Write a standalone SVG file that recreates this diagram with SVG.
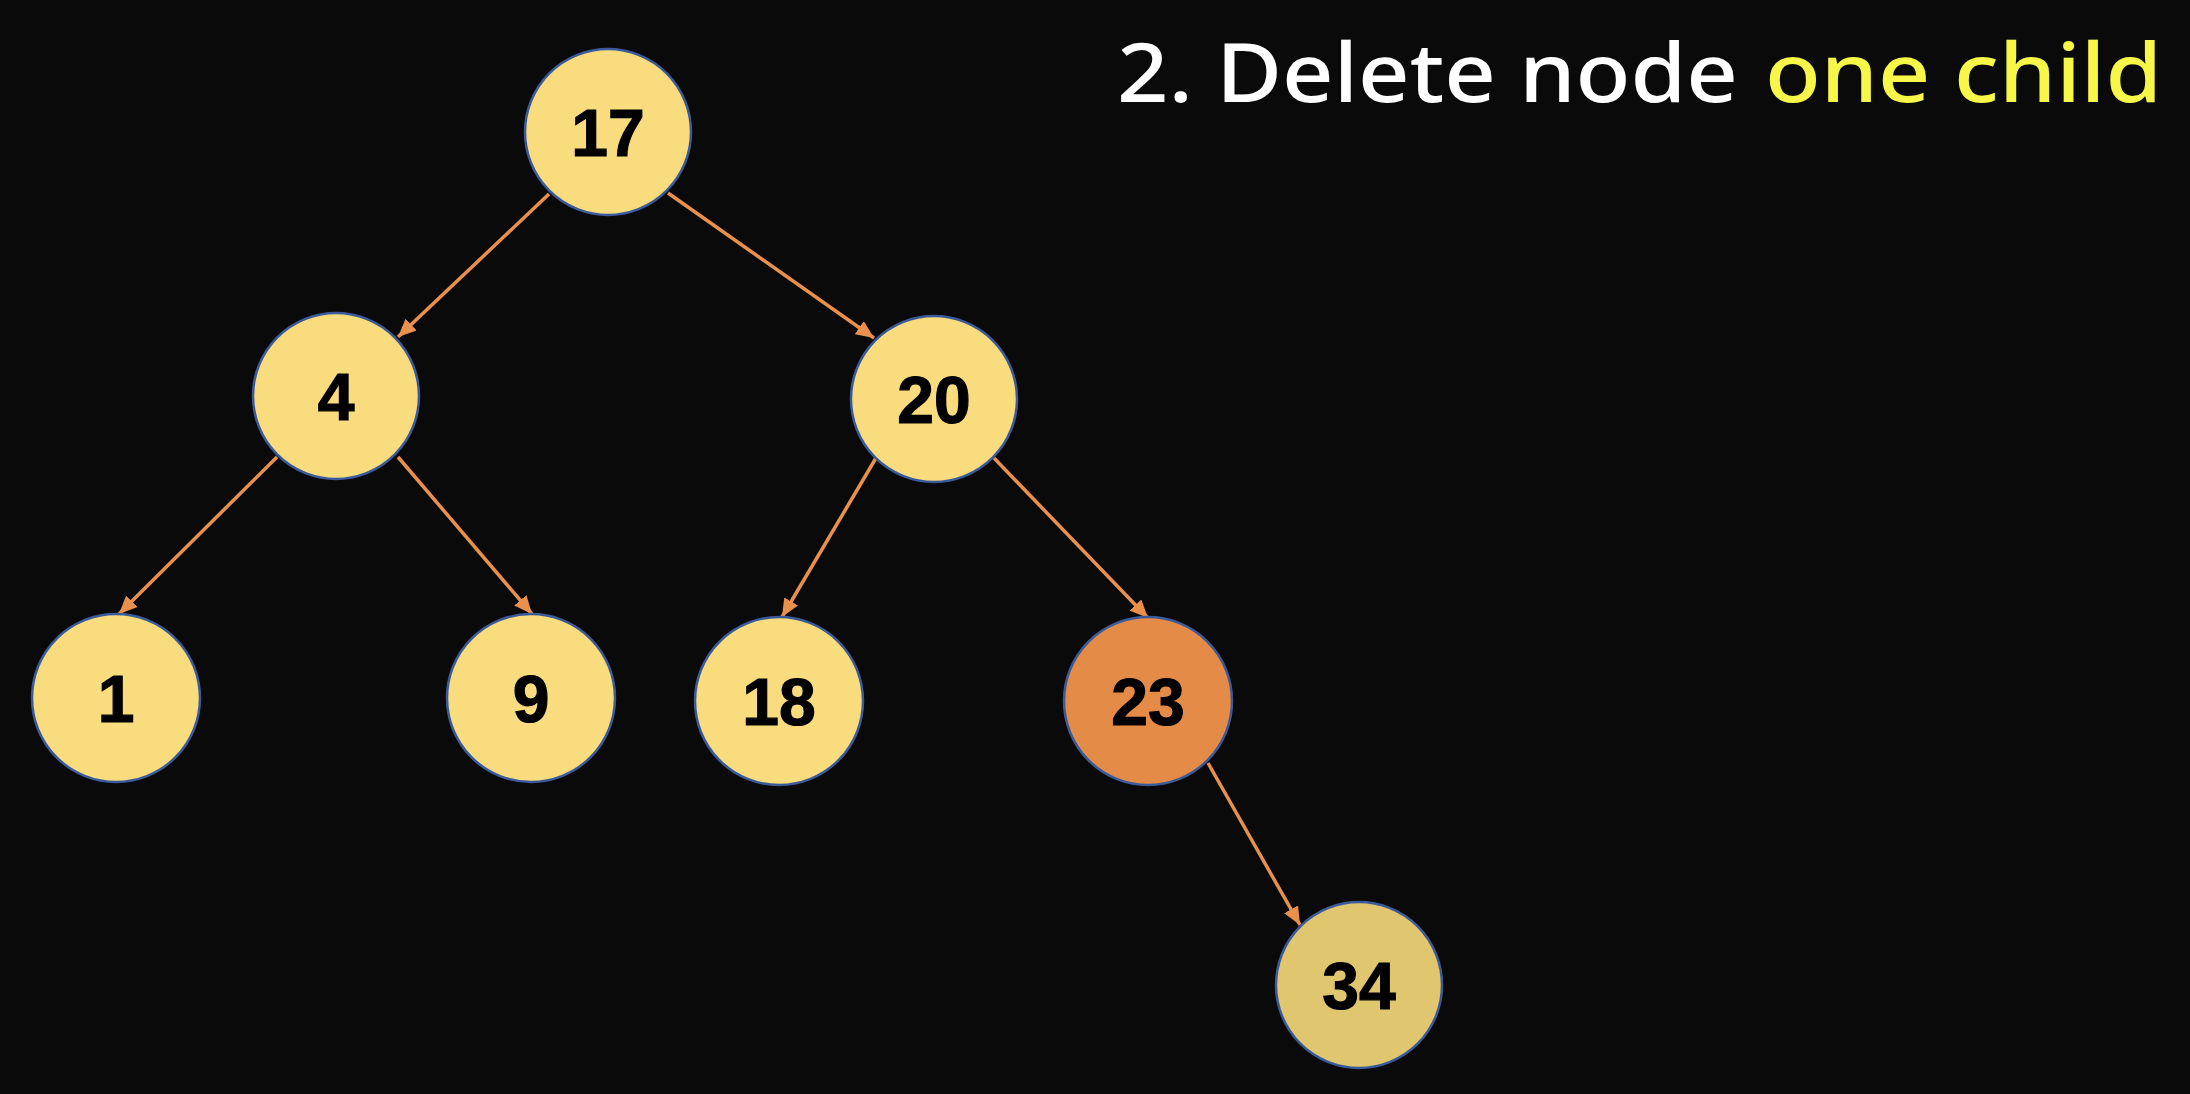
<svg xmlns="http://www.w3.org/2000/svg" width="2190" height="1094" viewBox="0 0 2190 1094">
<defs>
<style>
.node{fill:#F9DC7E;stroke:#3A5A9A;stroke-width:2.5}
.hl{fill:#E58B48}
.dim{fill:#E0C76F}
.lbl{font-family:"Liberation Sans",Arial,sans-serif;font-weight:700;font-size:66px;fill:#000;stroke:#000;stroke-width:1.2;text-anchor:middle}
.edge{stroke:#E8904C;stroke-width:3.5;fill:none;marker-end:url(#arr)}
.title{font-family:"Noto Sans","Open Sans",sans-serif;font-size:82px;font-weight:500}
</style>
<marker id="arr" markerUnits="userSpaceOnUse" markerWidth="20" markerHeight="16" refX="18" refY="8" orient="auto">
<path d="M0,0 L18,8 L0,16 Z" fill="#E8904C"/>
</marker>
</defs>
<rect width="2190" height="1094" fill="#0A0A0A"/>
<g id="title">
<text class="title" x="1117" y="102" fill="#FFFFFF" textLength="621" lengthAdjust="spacingAndGlyphs">2. Delete node</text>
<text class="title" x="1765" y="102" fill="#F7F74A" textLength="397" lengthAdjust="spacingAndGlyphs">one child</text>
</g>
<g id="connectors">
<line class="edge" x1="549" y1="194" x2="398" y2="337"/>
<line class="edge" x1="668" y1="193" x2="874" y2="338"/>
<line class="edge" x1="277" y1="457" x2="119" y2="614"/>
<line class="edge" x1="398" y1="457" x2="532" y2="614"/>
<line class="edge" x1="876" y1="458" x2="782" y2="617"/>
<line class="edge" x1="994" y1="458" x2="1148" y2="618"/>
<line class="edge" x1="1208" y1="763" x2="1300" y2="925"/>
</g>
<g id="n17"><circle class="node" cx="608" cy="132" r="83"/><text class="lbl" x="608" y="156">17</text></g>
<g id="n4"><circle class="node" cx="336" cy="396" r="83"/><text class="lbl" x="336" y="420">4</text></g>
<g id="n20"><circle class="node" cx="934" cy="399" r="83"/><text class="lbl" x="934" y="423">20</text></g>
<g id="n1"><circle class="node" cx="116" cy="698" r="84"/><text class="lbl" x="116" y="722">1</text></g>
<g id="n9"><circle class="node" cx="531" cy="698" r="84"/><text class="lbl" x="531" y="722">9</text></g>
<g id="n18"><circle class="node" cx="779" cy="701" r="84"/><text class="lbl" x="779" y="725">18</text></g>
<g id="n23"><circle class="node hl" cx="1148" cy="701" r="84"/><text class="lbl" x="1148" y="725">23</text></g>
<g id="n34"><circle class="node dim" cx="1359" cy="985" r="83"/><text class="lbl" x="1359" y="1009">34</text></g>
</svg>
